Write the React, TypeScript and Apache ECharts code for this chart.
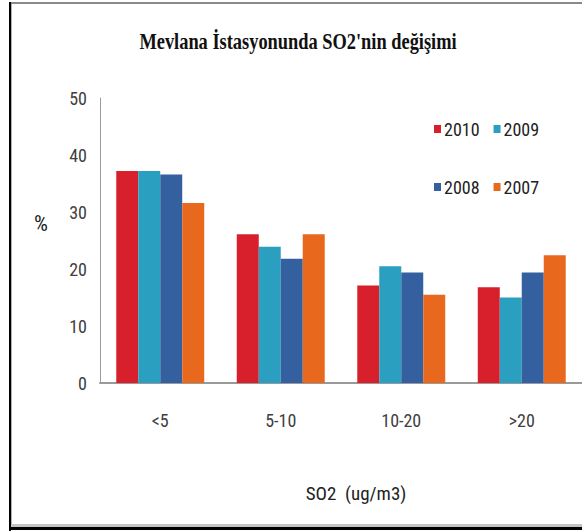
import React, { useEffect, useRef } from "react";
import * as echarts from "echarts";

const categories = ["<5", "5-10", "10-20", ">20"];
const years = ["2010", "2009", "2008", "2007"];
const s2010 = [37.2, 26.1, 17.1, 16.8];
const s2009 = [37.2, 23.9, 20.5, 15.0];
const s2008 = [36.6, 21.8, 19.4, 19.4];
const s2007 = [31.6, 26.1, 15.5, 22.4];
const seriesValues = [s2010, s2009, s2008, s2007];
const colors = ["#D7202B", "#2A9FC0", "#35609F", "#E8681E"];
const titleText = "Mevlana İstasyonunda SO2'nin değişimi";
const xAxisTitle = "SO2  (ug/m3)";
const yAxisTitle = "%";

const narrow =
  "'Liberation Sans Narrow', 'Arial Narrow', 'Roboto Condensed', 'Noto Sans Condensed', 'Open Sans Condensed', 'DejaVu Sans Condensed', sans-serif";

export default function App() {
  const ref = useRef<HTMLDivElement>(null);
  useEffect(() => {
    if (!ref.current) return;
    const chart = echarts.init(ref.current, null, { renderer: "svg" });
    const legendCommon = {
      icon: "rect",
      itemWidth: 7,
      itemHeight: 8,
      itemGap: 14,
      orient: "horizontal" as const,
      textStyle: { fontFamily: narrow, fontSize: 18, color: "#222", padding: [0, 0, 0, -2] },
    };
    chart.setOption({
      animation: false,
      backgroundColor: "#ffffff",
      color: colors,
      grid: { left: 100, right: 0, top: 98, bottom: 148, containLabel: false },
      legend: [
        { ...legendCommon, left: 429, top: 115, data: [years[0], years[1]] },
        { ...legendCommon, left: 429, top: 173, data: [years[2], years[3]] },
      ],
      xAxis: {
        type: "category",
        data: categories,
        axisLine: { show: true, lineStyle: { color: "#9a9a9a", width: 2 } },
        axisTick: { show: false },
        axisLabel: { fontFamily: narrow, fontSize: 18, color: "#404040", margin: 28 },
        splitLine: { show: false },
      },
      yAxis: {
        type: "value",
        min: 0,
        max: 50,
        interval: 10,
        axisLine: { show: true, lineStyle: { color: "#9a9a9a", width: 1 } },
        axisTick: { show: false },
        splitLine: { show: false },
        axisLabel: { fontFamily: narrow, fontSize: 18, color: "#404040", margin: 13 },
      },
      series: years.map((y, i) => ({
        name: y,
        type: "bar",
        data: seriesValues[i],
        barGap: "0%",
        barCategoryGap: "27%",
        itemStyle: { color: colors[i] },
      })),
      graphic: [
        {
          type: "text",
          x: 298,
          y: 41,
          scaleX: 0.8,
          style: {
            text: titleText,
            font: "bold 23px 'Liberation Serif', 'Times New Roman', serif",
            fill: "#111",
            textAlign: "center",
            textVerticalAlign: "middle",
            align: "center",
            verticalAlign: "middle",
          },
        },
        {
          type: "text",
          x: 41,
          y: 223,
          style: {
            text: yAxisTitle,
            font: `22px ${narrow}`,
            fill: "#222",
            textAlign: "center",
            textVerticalAlign: "middle",
            align: "center",
            verticalAlign: "middle",
          },
        },
        {
          type: "text",
          x: 356,
          y: 493,
          style: {
            text: xAxisTitle,
            font: `19px ${narrow}`,
            fill: "#222",
            textAlign: "center",
            textVerticalAlign: "middle",
            align: "center",
            verticalAlign: "middle",
          },
        },
        { type: "rect", shape: { x: 9, y: 2, width: 2, height: 529 }, style: { fill: "#000" } },
        { type: "rect", shape: { x: 11, y: 3, width: 1, height: 522 }, style: { fill: "#b0b0b0" } },
        { type: "rect", shape: { x: 11, y: 2, width: 571, height: 2 }, style: { fill: "#8a8a8a" } },
        { type: "rect", shape: { x: 11, y: 524, width: 571, height: 3 }, style: { fill: "#c4c4c4" } },
        { type: "rect", shape: { x: 9, y: 527, width: 573, height: 3 }, style: { fill: "#000" } },
      ],
    });
    return () => chart.dispose();
  }, []);
  return (
    <div
      ref={ref}
      style={{ position: "absolute", left: 0, top: 0, width: 582, height: 531, background: "#fff" }}
    />
  );
}
